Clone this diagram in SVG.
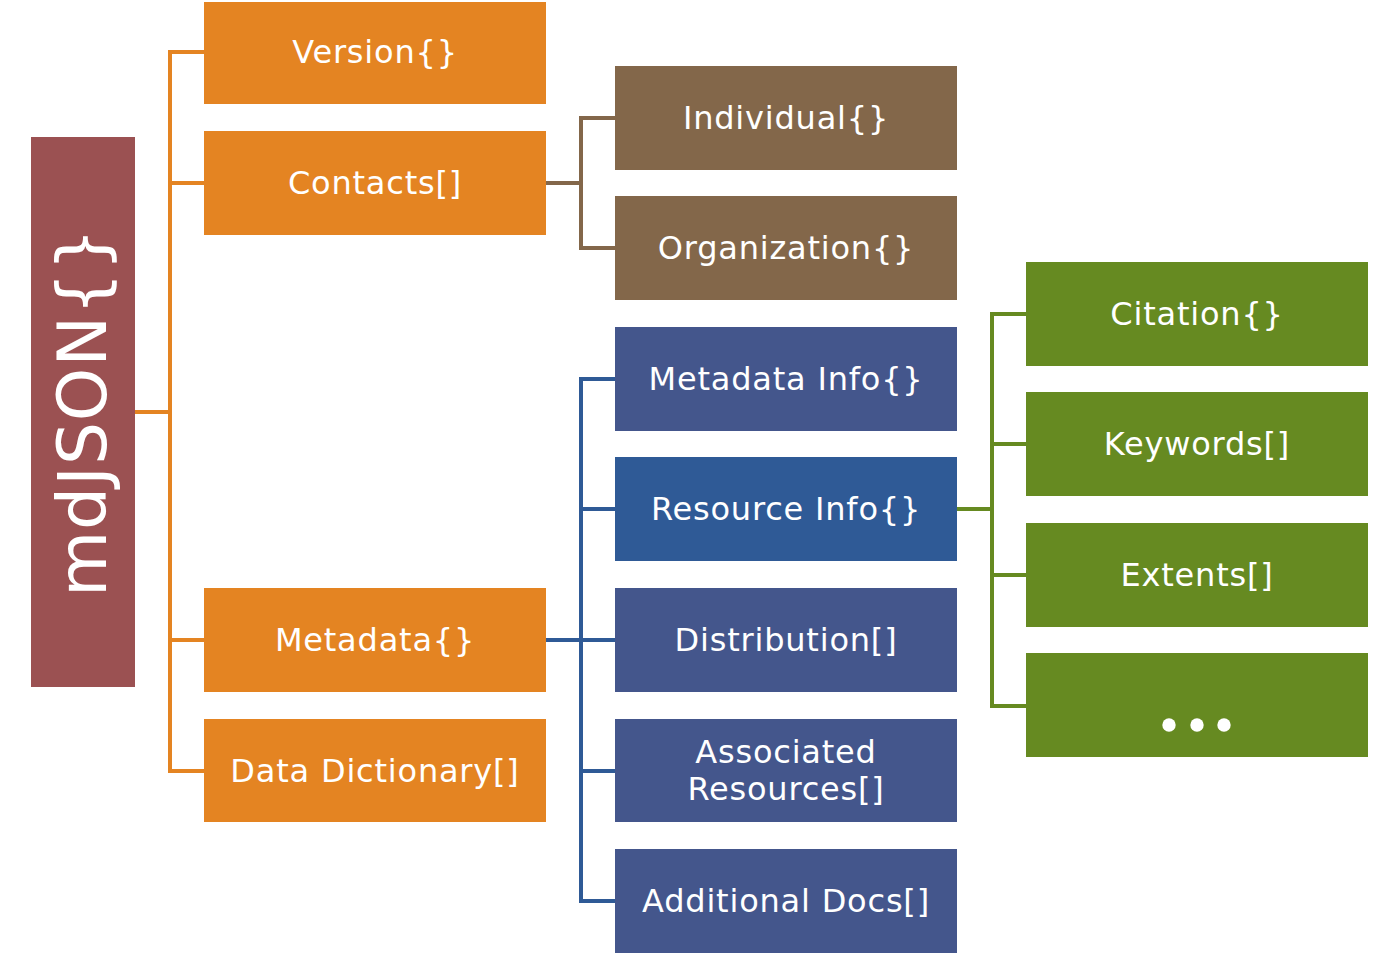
<svg xmlns="http://www.w3.org/2000/svg" width="1400" height="954" viewBox="0 0 1400 954">
<style>
text{font-family:"DejaVu Sans","Verdana",sans-serif;font-size:32px;fill:#fff;text-anchor:middle;letter-spacing:0.8px}
.or{fill:#E48422}.br{fill:#83674A}.bl{fill:#44568C}.bl2{fill:#2F5A96}.gr{fill:#668A21}
.c{fill:none;stroke-width:4;stroke-linejoin:miter}
</style>
<rect width="1400" height="954" fill="#fff"/>
<g id="connectors">
<path class="c" stroke="#E48422" d="M135 412H170M204 52H170V771H204M170 183H204M170 640H204"/>
<path class="c" stroke="#83674A" d="M546 183H581M615 118H581V248H615"/>
<path class="c" stroke="#2F5A96" d="M546 640H581M615 379H581V901H615M581 509H615M581 640H615M581 771H615"/>
<path class="c" stroke="#668A21" d="M957 509H992M1026 314H992V706H1026M992 444H1026M992 575H1026"/>
</g>
<g id="mdjson"><rect x="31" y="137" width="104" height="550" fill="#9B5152"/><text transform="translate(106 412) rotate(-90)" style="font-size:68px;letter-spacing:0.8px">mdJSON{}</text></g>
<g id="version"><rect class="or" x="204" y="2" width="342" height="102"/><text x="375" y="63">Version{}</text></g>
<g id="contacts"><rect class="or" x="204" y="131" width="342" height="104"/><text x="375" y="194">Contacts[]</text></g>
<g id="metadata"><rect class="or" x="204" y="588" width="342" height="104"/><text x="375" y="651">Metadata{}</text></g>
<g id="datadictionary"><rect class="or" x="204" y="719" width="342" height="103"/><text x="375" y="782">Data Dictionary[]</text></g>
<g id="individual"><rect class="br" x="615" y="66" width="342" height="104"/><text x="786" y="129">Individual{}</text></g>
<g id="organization"><rect class="br" x="615" y="196" width="342" height="104"/><text x="786" y="259">Organization{}</text></g>
<g id="metadatainfo"><rect class="bl" x="615" y="327" width="342" height="104"/><text x="786" y="390">Metadata Info{}</text></g>
<g id="resourceinfo"><rect class="bl2" x="615" y="457" width="342" height="104"/><text x="786" y="520">Resource Info{}</text></g>
<g id="distribution"><rect class="bl" x="615" y="588" width="342" height="104"/><text x="786" y="651">Distribution[]</text></g>
<g id="associated"><rect class="bl" x="615" y="719" width="342" height="103"/><text x="786" y="763">Associated</text><text x="786" y="800">Resources[]</text></g>
<g id="additional"><rect class="bl" x="615" y="849" width="342" height="104"/><text x="786" y="912">Additional Docs[]</text></g>
<g id="citation"><rect class="gr" x="1026" y="262" width="342" height="104"/><text x="1197" y="325">Citation{}</text></g>
<g id="keywords"><rect class="gr" x="1026" y="392" width="342" height="104"/><text x="1197" y="455">Keywords[]</text></g>
<g id="extents"><rect class="gr" x="1026" y="523" width="342" height="104"/><text x="1197" y="586">Extents[]</text></g>
<g id="more"><rect class="gr" x="1026" y="653" width="342" height="104"/><circle cx="1169" cy="725" r="6.7" fill="#fff"/><circle cx="1197" cy="725" r="6.7" fill="#fff"/><circle cx="1224" cy="725" r="6.7" fill="#fff"/></g>
</svg>
